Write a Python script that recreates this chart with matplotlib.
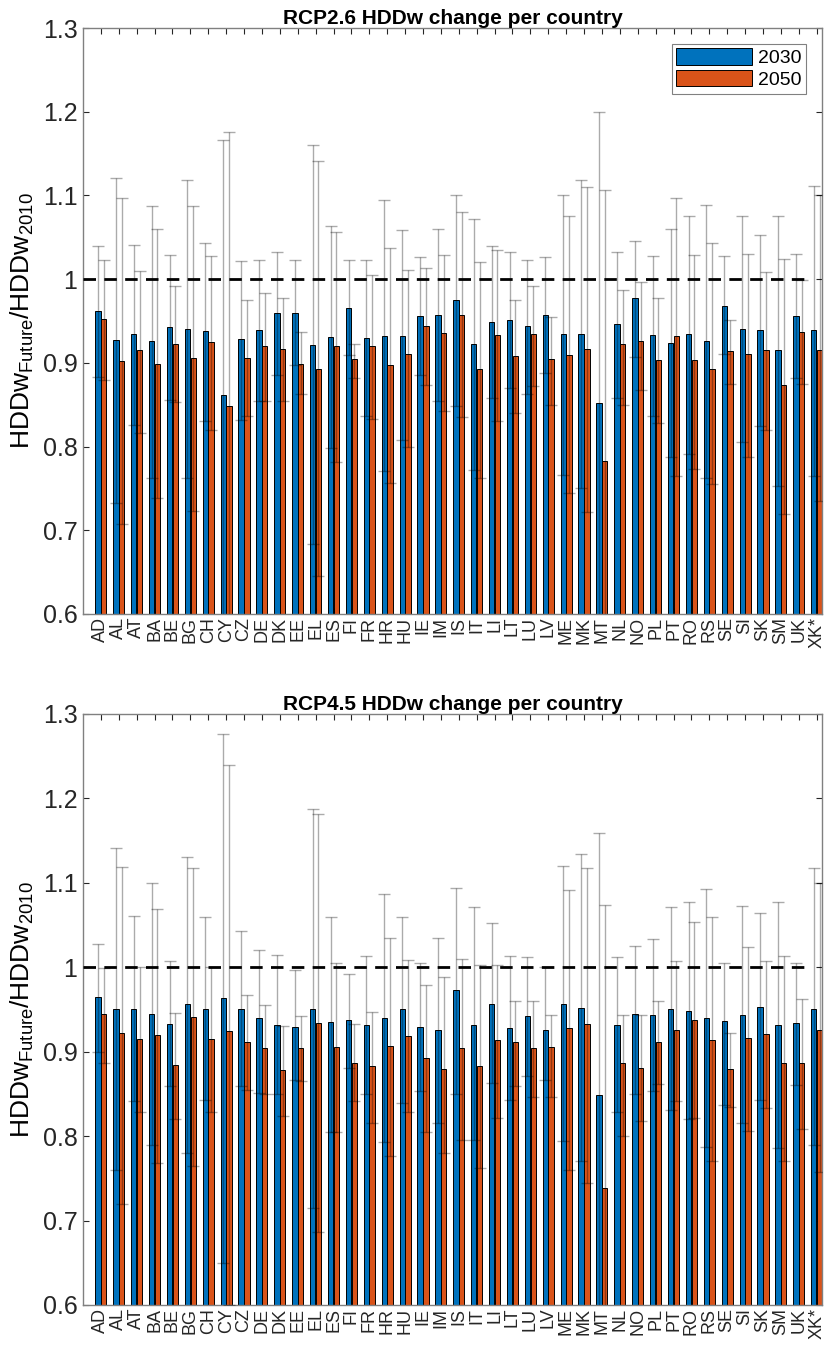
import numpy as np
import matplotlib
matplotlib.use('Agg')
import matplotlib.pyplot as plt
from matplotlib.patches import Patch

plt.rcParams['font.family'] = ['Liberation Sans', 'DejaVu Sans']
plt.rcParams['mathtext.default'] = 'regular'

countries = ['AD', 'AL', 'AT', 'BA', 'BE', 'BG', 'CH', 'CY', 'CZ', 'DE', 'DK', 'EE', 'EL', 'ES',
             'FI', 'FR', 'HR', 'HU', 'IE', 'IM', 'IS', 'IT', 'LI', 'LT', 'LU', 'LV', 'ME', 'MK',
             'MT', 'NL', 'NO', 'PL', 'PT', 'RO', 'RS', 'SE', 'SI', 'SK', 'SM', 'UK', 'XK*']

# RCP2.6 - mean ratio and error bar ends
r26_2030 = [0.962, 0.927, 0.934, 0.926, 0.943, 0.941, 0.938, 0.861, 0.928, 0.939, 0.960, 0.960, 0.921, 0.931,
            0.966, 0.930, 0.932, 0.932, 0.956, 0.957, 0.975, 0.922, 0.949, 0.951, 0.944, 0.957, 0.934, 0.934,
            0.852, 0.946, 0.977, 0.933, 0.924, 0.934, 0.926, 0.968, 0.941, 0.939, 0.915, 0.956, 0.939]
r26_2050 = [0.952, 0.902, 0.915, 0.899, 0.923, 0.906, 0.925, 0.848, 0.906, 0.920, 0.917, 0.899, 0.893, 0.920,
            0.904, 0.920, 0.898, 0.911, 0.944, 0.936, 0.957, 0.893, 0.933, 0.908, 0.934, 0.904, 0.909, 0.916,
            0.783, 0.922, 0.926, 0.903, 0.932, 0.903, 0.893, 0.914, 0.910, 0.915, 0.874, 0.937, 0.915]
r26_hi_2030 = [1.040, 1.121, 1.041, 1.087, 1.029, 1.119, 1.043, 1.166, 1.022, 1.023, 1.033, 1.023, 1.160, 1.064,
               1.023, 1.023, 1.094, 1.059, 1.027, 1.060, 1.101, 1.072, 1.039, 1.032, 1.023, 1.027, 1.101, 1.119,
               1.200, 1.033, 1.046, 1.028, 1.060, 1.075, 1.088, 1.028, 1.076, 1.053, 1.076, 1.030, 1.111]
r26_hi_2050 = [1.023, 1.097, 1.010, 1.060, 0.992, 1.087, 1.028, 1.176, 0.975, 0.983, 0.977, 0.937, 1.141, 1.056,
               0.922, 1.005, 1.037, 1.011, 1.013, 1.029, 1.080, 1.021, 1.035, 0.975, 0.992, 0.955, 1.075, 1.110,
               1.107, 0.987, 0.996, 0.977, 1.097, 1.029, 1.043, 0.951, 1.030, 1.009, 1.024, 0.999, 1.100]
r26_lo_2030 = [0.883, 0.732, 0.826, 0.763, 0.856, 0.762, 0.831, 0.570, 0.832, 0.854, 0.886, 0.897, 0.683, 0.798,
               0.909, 0.836, 0.771, 0.808, 0.885, 0.854, 0.848, 0.772, 0.858, 0.870, 0.863, 0.888, 0.766, 0.750,
               0.550, 0.858, 0.907, 0.836, 0.787, 0.791, 0.762, 0.910, 0.805, 0.824, 0.753, 0.882, 0.765]
r26_lo_2050 = [0.880, 0.708, 0.816, 0.739, 0.853, 0.723, 0.820, 0.550, 0.836, 0.855, 0.854, 0.863, 0.645, 0.781,
               0.882, 0.833, 0.757, 0.800, 0.873, 0.842, 0.835, 0.762, 0.830, 0.840, 0.872, 0.850, 0.745, 0.722,
               0.520, 0.850, 0.868, 0.828, 0.765, 0.773, 0.755, 0.875, 0.788, 0.820, 0.720, 0.875, 0.735]

# RCP4.5
r45_2030 = [0.965, 0.950, 0.951, 0.945, 0.933, 0.956, 0.951, 0.964, 0.951, 0.940, 0.931, 0.929, 0.950, 0.935,
            0.937, 0.932, 0.940, 0.950, 0.929, 0.926, 0.973, 0.931, 0.957, 0.928, 0.942, 0.926, 0.957, 0.952,
            0.849, 0.932, 0.945, 0.943, 0.951, 0.948, 0.940, 0.936, 0.944, 0.953, 0.931, 0.934, 0.951]
r45_2050 = [0.945, 0.922, 0.915, 0.920, 0.884, 0.941, 0.915, 0.924, 0.912, 0.904, 0.878, 0.904, 0.934, 0.906,
            0.887, 0.883, 0.907, 0.919, 0.893, 0.880, 0.904, 0.883, 0.914, 0.911, 0.904, 0.905, 0.928, 0.933,
            0.738, 0.887, 0.881, 0.911, 0.926, 0.937, 0.914, 0.879, 0.916, 0.921, 0.886, 0.886, 0.926]
r45_hi_2030 = [1.027, 1.141, 1.061, 1.100, 1.007, 1.131, 1.060, 1.276, 1.043, 1.020, 1.014, 0.997, 1.187, 1.059,
               0.992, 1.013, 1.087, 1.060, 1.005, 1.035, 1.094, 1.071, 1.052, 1.013, 1.012, 1.000, 1.120, 1.134,
               1.159, 1.012, 1.025, 1.033, 1.071, 1.077, 1.093, 1.005, 1.073, 1.064, 1.077, 1.005, 1.118]
r45_hi_2050 = [0.999, 1.119, 1.000, 1.069, 0.946, 1.117, 1.000, 1.240, 0.967, 0.955, 0.930, 0.942, 1.181, 1.005,
               0.933, 0.947, 1.035, 1.008, 0.979, 0.989, 1.010, 1.003, 1.003, 0.960, 0.960, 0.943, 1.092, 1.118,
               1.074, 0.944, 0.943, 0.960, 1.007, 1.053, 1.059, 0.922, 1.024, 1.007, 1.013, 0.962, 1.100]
r45_lo_2030 = [0.900, 0.760, 0.841, 0.790, 0.859, 0.780, 0.843, 0.650, 0.859, 0.851, 0.850, 0.866, 0.715, 0.805,
               0.881, 0.850, 0.793, 0.839, 0.853, 0.816, 0.850, 0.795, 0.863, 0.843, 0.871, 0.866, 0.794, 0.770,
               0.550, 0.829, 0.850, 0.853, 0.831, 0.820, 0.787, 0.837, 0.816, 0.843, 0.786, 0.861, 0.790]
r45_lo_2050 = [0.887, 0.720, 0.829, 0.768, 0.820, 0.765, 0.828, 0.600, 0.855, 0.850, 0.824, 0.865, 0.686, 0.805,
               0.841, 0.816, 0.777, 0.829, 0.805, 0.780, 0.795, 0.762, 0.821, 0.859, 0.846, 0.846, 0.760, 0.745,
               0.500, 0.800, 0.818, 0.862, 0.841, 0.822, 0.770, 0.835, 0.806, 0.833, 0.770, 0.808, 0.757]

yticks = [0.6, 0.7, 0.8, 0.9, 1.0, 1.1, 1.2, 1.3]
ytick_labels = ['0.6', '0.7', '0.8', '0.9', '1', '1.1', '1.2', '1.3']

blue = '#0072BD'
orange = '#D95319'
axcol = '#808080'


def panel(ax, title, v30, v50, lo30, hi30, lo50, hi50, legend=False):
    x = np.arange(1, len(countries) + 1)
    off = 0.16
    w = 0.3
    v30 = np.array(v30); v50 = np.array(v50)
    ax.bar(x - off, v30, w, color=blue, edgecolor='k', linewidth=0.7, zorder=2)
    ax.bar(x + off, v50, w, color=orange, edgecolor='k', linewidth=0.7, zorder=2)
    # error bars, semi transparent like the original
    for xx, v, lo, hi in [(x - off, v30, lo30, hi30), (x + off, v50, lo50, hi50)]:
        yerr = [v - np.array(lo), np.array(hi) - v]
        ax.errorbar(xx, v, yerr=yerr, fmt='none', ecolor='k', elinewidth=1.0,
                    capsize=4.5, capthick=1.0, alpha=0.33, zorder=3)
    ax.plot([0, 40.5], [1, 1], color='k', linestyle=(0, (4.5, 3)), linewidth=2.0, zorder=4)

    ax.set_xlim(0, 41.3)
    ax.set_ylim(0.6, 1.3)
    ax.set_xticks(x)
    ax.set_xticklabels(countries, rotation=90, fontsize=13, color='#262626')
    ax.set_yticks(yticks)
    ax.set_yticklabels(ytick_labels, fontsize=18, color='#262626')
    ax.tick_params(direction='in', top=True, right=True, length=4, width=0.8,
                   color='#262626', pad=4)
    ax.tick_params(axis='x', pad=2)
    for s in ax.spines.values():
        s.set_color(axcol)
        s.set_linewidth(1.0)
    ax.set_title(title, fontsize=15, fontweight='bold', pad=3)
    ax.set_ylabel(r'HDDw$_{Future}$/HDDw$_{2010}$', fontsize=19, labelpad=5)
    if legend:
        handles = [Patch(facecolor=blue, edgecolor='k', linewidth=0.7, label='2030'),
                   Patch(facecolor=orange, edgecolor='k', linewidth=0.7, label='2050')]
        leg = ax.legend(handles=handles, loc='upper right', fontsize=14, handlelength=3.9,
                        handleheight=0.9, fancybox=False, framealpha=1, edgecolor='#808080',
                        borderaxespad=0.8, labelspacing=0.15, handletextpad=0.3, borderpad=0.25)
        leg.get_frame().set_linewidth(0.8)


fig = plt.figure(figsize=(8.25, 13.47), dpi=100)
ax1 = fig.add_axes([0.1006, 0.5442, 0.8958, 0.4350])
ax2 = fig.add_axes([0.1006, 0.0312, 0.8958, 0.4388])

panel(ax1, 'RCP2.6 HDDw change per country', r26_2030, r26_2050,
      r26_lo_2030, r26_hi_2030, r26_lo_2050, r26_hi_2050, legend=True)
panel(ax2, 'RCP4.5 HDDw change per country', r45_2030, r45_2050,
      r45_lo_2030, r45_hi_2030, r45_lo_2050, r45_hi_2050)

fig.savefig('out.png', dpi=100)
